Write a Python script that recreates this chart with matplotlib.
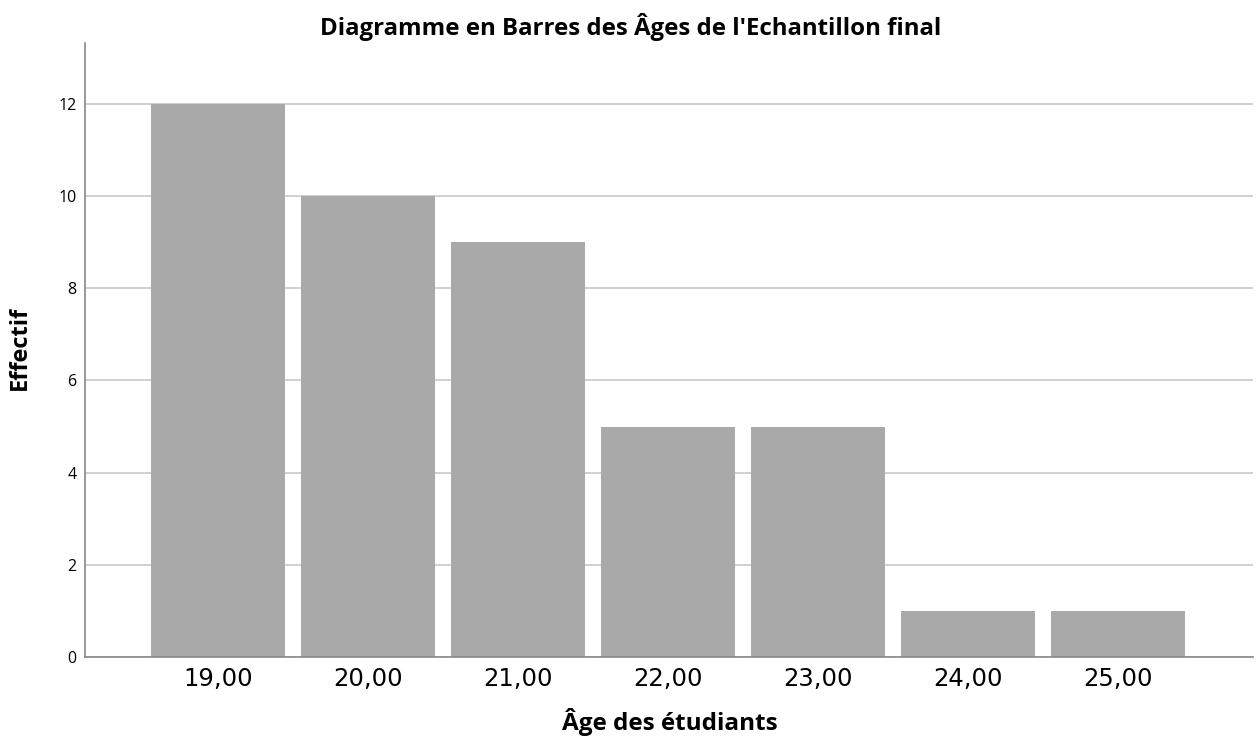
import numpy as np
import matplotlib
matplotlib.use("Agg")
import matplotlib.pyplot as plt

ages = ["19,00", "20,00", "21,00", "22,00", "23,00", "24,00", "25,00"]
counts = [12, 10, 9, 5, 5, 1, 1]
yticks = [0, 2, 4, 6, 8, 10, 12]

fig = plt.figure(figsize=(12.56, 7.39), dpi=100)
ax = fig.add_axes([0.0677, 0.111, 0.93, 0.8308])

x = np.arange(len(ages))
ax.bar(x, counts, width=0.893, color="#a9a9a9", zorder=2)

ax.set_xlim(-0.887, 6.9)
ax.set_ylim(0, 13.32)
ax.set_yticks(yticks)
ax.set_yticklabels([str(v) for v in yticks], fontsize=11.5, family="Open Sans")
ax.set_xticks(x)
ax.set_xticklabels(ages, fontsize=17.5)
ax.tick_params(axis="both", length=0)
ax.tick_params(axis="x", pad=7)
ax.tick_params(axis="y", pad=6)

ax.yaxis.grid(True, color="#c8c8c8", linewidth=1.2, zorder=1)
for s in ["top", "right"]:
    ax.spines[s].set_visible(False)
for s in ["left", "bottom"]:
    ax.spines[s].set_color("#888888")
    ax.spines[s].set_linewidth(1.2)

fig.text(0.502, 0.963, "Diagramme en Barres des Âges de l'Echantillon final",
         ha="center", va="center", fontsize=17.3, fontweight="bold", family="Open Sans")
fig.text(0.016, 0.529, "Effectif", rotation=90, ha="center", va="center",
         fontsize=17, fontweight="bold", family="Open Sans")
fig.text(0.533, 0.023, "Âge des étudiants", ha="center", va="center",
         fontsize=17.5, fontweight="bold", family="Open Sans")

fig.savefig("out.png", dpi=100)
